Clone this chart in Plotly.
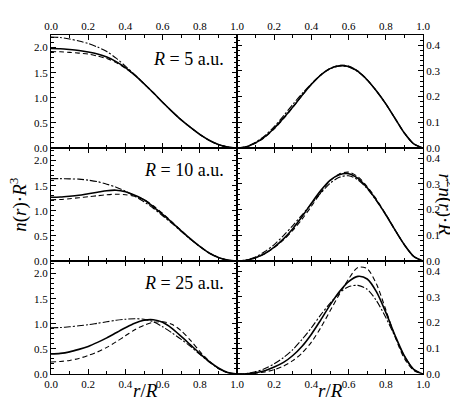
import plotly.graph_objects as go
from plotly.subplots import make_subplots

# r/R grid the values were read on
r = [0.0, 0.05, 0.1, 0.15, 0.2, 0.25, 0.3, 0.35, 0.4, 0.45, 0.5,
     0.55, 0.6, 0.65, 0.7, 0.75, 0.8, 0.85, 0.9, 0.95, 1.0]

# left column: n(r)*R^3
n5_solid = [1.98, 1.975, 1.96, 1.94, 1.91, 1.87, 1.81, 1.72, 1.60, 1.45, 1.28,
            1.10, 0.91, 0.73, 0.56, 0.41, 0.27, 0.155, 0.07, 0.02, 0.0]
n5_dash = [1.92, 1.915, 1.905, 1.89, 1.87, 1.83, 1.78, 1.70, 1.59, 1.45, 1.28,
           1.10, 0.91, 0.73, 0.56, 0.41, 0.27, 0.155, 0.07, 0.02, 0.0]
n5_dashdot = [2.21, 2.20, 2.17, 2.13, 2.08, 2.01, 1.92, 1.79, 1.63, 1.46, 1.28,
              1.10, 0.91, 0.73, 0.56, 0.41, 0.27, 0.155, 0.07, 0.02, 0.0]

n10_solid = [1.27, 1.275, 1.29, 1.31, 1.34, 1.37, 1.40, 1.41, 1.38, 1.31, 1.22,
             1.08, 0.93, 0.77, 0.60, 0.44, 0.29, 0.16, 0.07, 0.018, 0.0]
n10_dash = [1.22, 1.225, 1.24, 1.26, 1.28, 1.30, 1.32, 1.33, 1.32, 1.29, 1.22,
            1.10, 0.95, 0.78, 0.61, 0.44, 0.29, 0.16, 0.07, 0.018, 0.0]
n10_dashdot = [1.64, 1.64, 1.635, 1.63, 1.61, 1.58, 1.53, 1.47, 1.39, 1.29, 1.18,
               1.05, 0.90, 0.75, 0.59, 0.43, 0.29, 0.16, 0.07, 0.018, 0.0]

n25_solid = [0.40, 0.41, 0.44, 0.49, 0.55, 0.63, 0.72, 0.82, 0.92, 1.01, 1.07,
             1.08, 1.03, 0.91, 0.75, 0.58, 0.41, 0.25, 0.12, 0.03, 0.0]
n25_dash = [0.24, 0.25, 0.27, 0.31, 0.37, 0.44, 0.53, 0.64, 0.76, 0.88, 0.97,
            1.03, 1.04, 0.99, 0.86, 0.67, 0.45, 0.26, 0.11, 0.025, 0.0]
n25_dashdot = [0.92, 0.925, 0.94, 0.96, 0.98, 1.01, 1.04, 1.07, 1.09, 1.10, 1.09,
               1.04, 0.94, 0.82, 0.69, 0.55, 0.39, 0.24, 0.11, 0.03, 0.0]

# right column: r^2 n(r) R
p5_solid = [0, 0.005, 0.02, 0.044, 0.077, 0.117, 0.16, 0.205, 0.248, 0.284, 0.309,
            0.32, 0.317, 0.298, 0.265, 0.222, 0.172, 0.115, 0.058, 0.016, 0]
p5_dash = [0, 0.0048, 0.019, 0.042, 0.075, 0.114, 0.158, 0.204, 0.248, 0.285, 0.31,
           0.322, 0.319, 0.30, 0.266, 0.222, 0.172, 0.115, 0.058, 0.016, 0]
p5_dashdot = [0, 0.0055, 0.022, 0.048, 0.083, 0.125, 0.17, 0.212, 0.25, 0.284, 0.308,
              0.319, 0.316, 0.297, 0.265, 0.222, 0.172, 0.115, 0.058, 0.016, 0]

p10_solid = [0, 0.0032, 0.013, 0.029, 0.054, 0.086, 0.126, 0.173, 0.225, 0.274, 0.314,
             0.336, 0.34, 0.322, 0.285, 0.236, 0.18, 0.12, 0.063, 0.018, 0]
p10_dash = [0, 0.003, 0.0125, 0.0285, 0.052, 0.082, 0.119, 0.163, 0.213, 0.266, 0.312,
            0.339, 0.346, 0.328, 0.29, 0.24, 0.182, 0.121, 0.063, 0.018, 0]
p10_dashdot = [0, 0.004, 0.016, 0.037, 0.064, 0.099, 0.138, 0.18, 0.222, 0.264, 0.302,
               0.326, 0.332, 0.316, 0.282, 0.234, 0.18, 0.12, 0.063, 0.018, 0]

p25_solid = [0, 0.001, 0.005, 0.013, 0.027, 0.045, 0.072, 0.108, 0.155, 0.21, 0.268,
             0.32, 0.36, 0.38, 0.37, 0.32, 0.24, 0.15, 0.07, 0.018, 0]
p25_dash = [0, 0.0006, 0.003, 0.008, 0.017, 0.031, 0.052, 0.082, 0.124, 0.18, 0.245,
            0.31, 0.37, 0.415, 0.41, 0.35, 0.25, 0.145, 0.06, 0.014, 0]
p25_dashdot = [0, 0.002, 0.009, 0.021, 0.04, 0.064, 0.095, 0.135, 0.18, 0.23, 0.275,
               0.315, 0.34, 0.345, 0.33, 0.285, 0.22, 0.145, 0.07, 0.018, 0]

radii = ["5", "10", "25"]
x_ticks = [0.0, 0.2, 0.4, 0.6, 0.8, 1.0]

left_sets = [(n5_solid, n5_dash, n5_dashdot),
             (n10_solid, n10_dash, n10_dashdot),
             (n25_solid, n25_dash, n25_dashdot)]
right_sets = [(p5_solid, p5_dash, p5_dashdot),
              (p10_solid, p10_dash, p10_dashdot),
              (p25_solid, p25_dash, p25_dashdot)]

styles = [dict(width=1.6, dash="solid"),
          dict(width=1.1, dash="5px,3px"),
          dict(width=1.1, dash="7px,2px,2px,2px")]

serif = "Liberation Serif, Times New Roman, serif"

fig = make_subplots(rows=3, cols=2, horizontal_spacing=0, vertical_spacing=0)

for i in range(3):
    for col, sets in ((1, left_sets), (2, right_sets)):
        # dash-dot and dashed first so the solid sits on top
        for k in (2, 1, 0):
            fig.add_trace(go.Scatter(x=r, y=sets[i][k], mode="lines",
                                     line=dict(color="black", shape="spline",
                                               smoothing=0.8, **styles[k]),
                                     showlegend=False, hoverinfo="skip"),
                          row=i + 1, col=col)

tickfont = dict(family=serif, size=11, color="black")
for i in range(3):
    for col in (1, 2):
        if i == 0:
            side, labels = "top", True
        elif i == 2:
            side, labels = "bottom", True
        else:
            side, labels = "bottom", False
        vals = x_ticks if col == 1 else x_ticks[1:]
        fig.update_xaxes(range=[0, 1], tickvals=vals, tickformat=".1f",
                         showticklabels=labels, side=side,
                         ticks="inside", ticklen=5, tickcolor="black",
                         minor=dict(dtick=0.1, tick0=0, ticks="inside", ticklen=3,
                                    tickcolor="black"),
                         showline=True, linecolor="black", linewidth=1, mirror="allticks",
                         showgrid=False, zeroline=False, tickfont=tickfont,
                         row=i + 1, col=col)
    fig.update_yaxes(range=[0, 2.25], dtick=0.5, tick0=0, tickformat=".1f",
                     ticks="inside", ticklen=5, tickcolor="black",
                     minor=dict(dtick=0.1, ticks="inside", ticklen=3, tickcolor="black"),
                     showline=True, linecolor="black", linewidth=1, mirror="allticks",
                     showgrid=False, zeroline=False, tickfont=tickfont,
                     row=i + 1, col=1)
    fig.update_yaxes(range=[0, 0.44], dtick=0.1, tick0=0, tickformat=".1f", side="right",
                     ticks="inside", ticklen=5, tickcolor="black",
                     minor=dict(dtick=0.02, ticks="inside", ticklen=3, tickcolor="black"),
                     showline=True, linecolor="black", linewidth=1, mirror="allticks",
                     showgrid=False, zeroline=False, tickfont=tickfont,
                     row=i + 1, col=2)

ann = []
label_y = [0.929, 0.601, 0.268]
for i, R in enumerate(radii):
    ann.append(dict(text="<i>R</i> = " + R + " a.u.", x=0.47, y=label_y[i],
                    xref="paper", yref="paper", xanchor="right", yanchor="middle",
                    showarrow=False, font=dict(family=serif, size=18, color="black")))
ann.append(dict(text="<i>n</i>(<i>r</i>)·<i>R</i><sup>3</sup>", x=-0.088, y=0.5,
                xref="paper", yref="paper", xanchor="center", yanchor="middle",
                textangle=-90, showarrow=False,
                font=dict(family=serif, size=19, color="black")))
ann.append(dict(text="<i>r</i><sup>2</sup><i>n</i>(<i>r</i>)·<i>R</i>", x=1.062, y=0.5,
                xref="paper", yref="paper", xanchor="center", yanchor="middle",
                textangle=90, showarrow=False,
                font=dict(family=serif, size=19, color="black")))
for xc in (0.253, 0.75):
    ann.append(dict(text="<i>r</i>/<i>R</i>", x=xc, y=-0.05, xref="paper", yref="paper",
                    xanchor="center", yanchor="middle", showarrow=False,
                    font=dict(family=serif, size=19, color="black")))

fig.update_layout(width=458, height=398, margin=dict(l=43, r=43, t=15, b=32),
                  font=dict(family=serif),
                  paper_bgcolor="white", plot_bgcolor="white", annotations=ann)

fig.write_html("out.html")
